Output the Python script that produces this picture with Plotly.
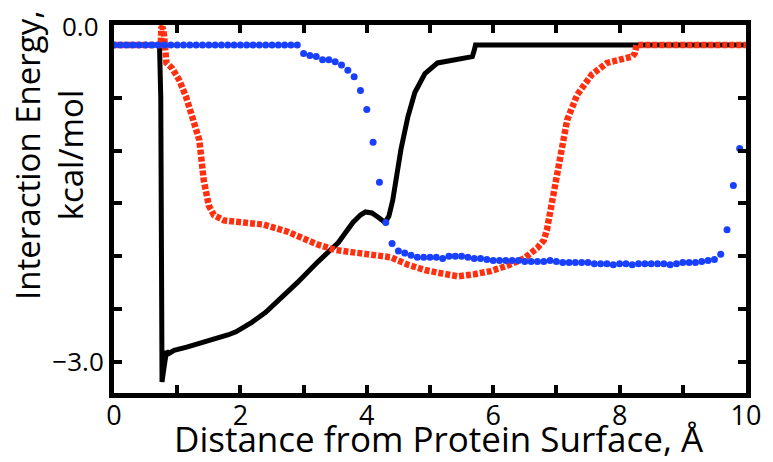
import plotly.graph_objects as go

# ---- data ----
black_x = [0.0, 0.72, 0.74, 0.75, 0.76, 0.78, 0.80, 0.83, 0.87, 0.95, 1.15, 1.39, 1.66, 1.80, 1.93, 2.05, 2.18,
           2.40, 2.60, 2.90, 3.23, 3.55, 3.78, 3.90, 3.98, 4.08, 4.18, 4.29, 4.35, 4.41, 4.54, 4.65,
           4.76, 4.92, 5.12, 5.44, 5.67, 5.70, 5.72, 10.0]
black_y = [0.0, 0.0, -0.5, -1.8, -3.19, -3.10, -3.0, -2.90, -2.92, -2.89, -2.86, -2.82, -2.77, -2.745, -2.715, -2.675, -2.625,
           -2.53, -2.42, -2.25, -2.05, -1.87, -1.68, -1.61, -1.58, -1.59, -1.63, -1.68, -1.62, -1.47, -0.99, -0.68,
           -0.45, -0.27, -0.17, -0.13, -0.11, -0.05, 0.0, 0.0]

red_x = [0.0, 0.74, 0.75, 0.77, 0.79, 0.80, 0.83, 0.92, 1.03, 1.14, 1.24, 1.35, 1.42, 1.50, 1.58,
         1.74, 2.05, 2.37, 2.76, 3.23, 3.50, 3.86, 4.18, 4.38, 4.65, 4.92, 5.17, 5.44, 5.70, 5.96,
         6.22, 6.49, 6.70, 6.80, 6.85, 6.90, 6.96, 7.00, 7.09, 7.17, 7.33, 7.56, 7.80, 8.10, 8.20,
         8.24, 8.27, 10.0]
red_y = [0.0, 0.0, 0.16, 0.17, 0.10, 0.0, -0.17, -0.22, -0.33, -0.49, -0.68, -0.90, -1.28, -1.52, -1.61,
         -1.66, -1.68, -1.70, -1.77, -1.89, -1.94, -1.97, -1.99, -2.01, -2.08, -2.13, -2.16, -2.19, -2.17, -2.14,
         -2.09, -2.02, -1.92, -1.85, -1.75, -1.59, -1.44, -1.28, -1.00, -0.71, -0.47, -0.28, -0.17, -0.12, -0.11,
         -0.08, 0.0, 0.0]

blue_x = [0.0, 0.1, 0.2, 0.3, 0.4, 0.5, 0.6, 0.7, 0.8, 0.9, 1.0, 1.1, 1.2, 1.3, 1.4, 1.5, 1.6, 1.7, 1.8, 1.9,
          2.0, 2.1, 2.2, 2.3, 2.4, 2.5, 2.6, 2.7, 2.8, 2.9, 3.0, 3.1, 3.2, 3.3, 3.4, 3.5, 3.6, 3.7, 3.8, 3.9,
          4.0, 4.1, 4.2, 4.3, 4.4, 4.5, 4.6, 4.7, 4.8, 4.9, 5.0, 5.1, 5.2, 5.3, 5.4, 5.5, 5.6, 5.7, 5.8, 5.9,
          6.0, 6.1, 6.2, 6.3, 6.4, 6.5, 6.6, 6.7, 6.8, 6.9, 7.0, 7.1, 7.2, 7.3, 7.4, 7.5, 7.6, 7.7, 7.8, 7.9,
          8.0, 8.1, 8.2, 8.3, 8.4, 8.5, 8.6, 8.7, 8.8, 8.9, 9.0, 9.1, 9.2, 9.3, 9.4, 9.5, 9.6, 9.7, 9.8, 9.9]
blue_y = [0.0, 0.0, 0.0, 0.0, 0.0, 0.0, 0.0, 0.0, 0.0, 0.0, 0.0, 0.0, 0.0, 0.0, 0.0, 0.0, 0.0, 0.0, 0.0, 0.0,
          0.0, 0.0, 0.0, 0.0, 0.0, 0.0, 0.0, 0.0, 0.0, 0.0, -0.08, -0.10, -0.11, -0.14, -0.14, -0.16, -0.19, -0.24, -0.30, -0.43,
          -0.61, -0.92, -1.30, -1.68, -1.88, -1.95, -1.97, -1.99, -2.01, -2.01, -2.01, -2.01, -2.02, -2.00, -2.00, -2.00, -2.01, -2.02, -2.02, -2.03,
          -2.04, -2.04, -2.04, -2.04, -2.04, -2.05, -2.05, -2.05, -2.05, -2.04, -2.05, -2.06, -2.06, -2.06, -2.06, -2.06, -2.07, -2.07, -2.07, -2.08,
          -2.07, -2.07, -2.08, -2.07, -2.07, -2.07, -2.07, -2.07, -2.08, -2.07, -2.06, -2.06, -2.06, -2.05, -2.04, -2.03, -1.98, -1.75, -1.33, -0.98]

x_tickvals = [0, 1, 2, 3, 4, 5, 6, 7, 8, 9, 10]
x_ticktext = ["0", "", "2", "", "4", "", "6", "", "8", "", "10"]
y_tickvals = [-3.0, -2.5, -2.0, -1.5, -1.0, -0.5]
y_ticktext = ["\u22123.0", "", "", "", "", ""]
Y_TOP_LABEL = "0.0"

X_TITLE = "Distance from Protein Surface, Å"
Y_TITLE = "Interaction Energy,<br>kcal/mol"

FONT = "Open Sans"

fig = go.Figure()
fig.add_trace(go.Scatter(x=black_x, y=black_y, mode="lines",
                         line=dict(color="black", width=5), hoverinfo="skip"))
fig.add_trace(go.Scatter(x=red_x, y=red_y, mode="lines",
                         line=dict(color="#ff3010", width=6.5, dash="5px,2px"), hoverinfo="skip"))
fig.add_trace(go.Scatter(x=blue_x, y=blue_y, mode="markers",
                         marker=dict(color="#1a40ff", size=7, line=dict(width=0)), hoverinfo="skip"))

axis_common = dict(showgrid=False, zeroline=False, showline=True, linecolor="black", linewidth=5,
                   mirror="ticks", ticks="inside", ticklen=8, tickwidth=4, tickcolor="black")

fig.update_layout(
    width=773, height=462,
    margin=dict(l=114, r=23, t=25, b=69),
    paper_bgcolor="white", plot_bgcolor="white",
    showlegend=False,
    font=dict(family=FONT, color="black"),
    xaxis=dict(range=[0, 10], tickmode="array", tickvals=x_tickvals, ticktext=x_ticktext,
               ticklabelstandoff=-5,
               tickfont=dict(family=FONT, size=27, color="black"), **axis_common),
    yaxis=dict(range=[-3.294, 0.189], tickmode="array", tickvals=y_tickvals, ticktext=y_ticktext,
               tickfont=dict(family=FONT, size=26, color="black"), **axis_common),
    annotations=[
        dict(text=Y_TOP_LABEL, xref="paper", yref="paper", x=0, y=1, xshift=-13, yshift=-1,
             xanchor="right", yanchor="middle", showarrow=False,
             font=dict(family=FONT, size=26, color="black")),
        dict(text=X_TITLE, xref="paper", yref="paper", x=0.5, y=0, xshift=9, yshift=-45,
             xanchor="center", yanchor="middle", showarrow=False,
             font=dict(family=FONT, size=35, color="black")),
        dict(text=Y_TITLE, xref="paper", yref="paper", x=0, y=0.647, xshift=-65,
             xanchor="center", yanchor="middle", textangle=-90, showarrow=False,
             font=dict(family=FONT, size=33, color="black")),
    ],
)

fig.write_html("out.html")
